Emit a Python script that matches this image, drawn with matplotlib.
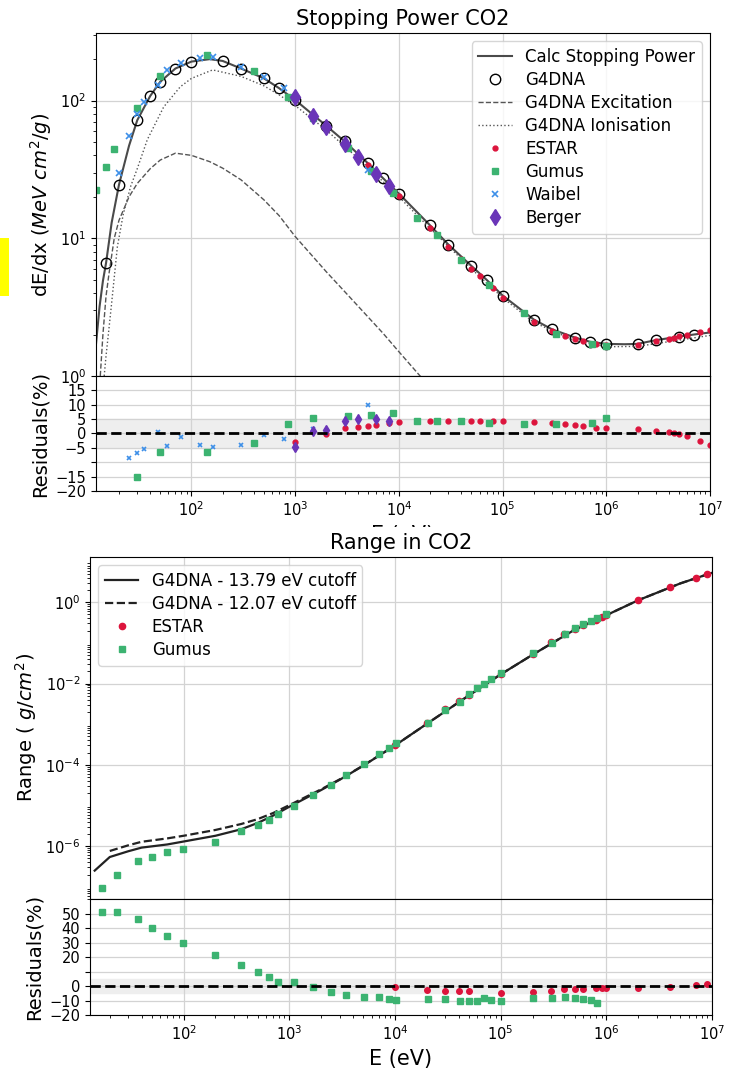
import matplotlib
matplotlib.use("Agg")
import matplotlib.pyplot as plt
from matplotlib.patches import Rectangle

# ---------------- Stopping power ----------------
calc_E = [12, 13, 14, 15, 17, 20, 25, 30, 40, 50, 70, 100, 150, 200, 300, 500, 700,
          1e3, 2e3, 3e3, 5e3, 7e3, 1e4, 2e4, 3e4, 5e4, 7e4, 1e5, 2e5, 3e5, 5e5, 7e5,
          1e6, 1.5e6, 2e6, 3e6, 5e6, 7e6, 1e7]
calc_sp = [1.7, 3.2, 4.9, 6.6, 13, 24.5, 47, 72, 108, 137, 171, 192, 200, 194, 171, 145, 123,
           101, 65.5, 50.5, 35.2, 27.4, 21.1, 12.4, 9.0, 6.3, 5.0, 3.84, 2.57, 2.18, 1.90, 1.77,
           1.71, 1.70, 1.71, 1.82, 1.93, 2.0, 2.07]

g4_E = [15, 20, 30, 40, 50, 70, 100, 200, 300, 500, 700, 1e3, 2e3, 3e3, 5e3, 7e3, 1e4,
        2e4, 3e4, 5e4, 7e4, 1e5, 2e5, 3e5, 5e5, 7e5, 1e6, 2e6, 3e6, 5e6, 7e6]
g4_sp = [6.6, 24.5, 72, 108, 137, 171, 192, 194, 171, 145, 123, 101, 65.5, 50.5, 35.2, 27.4, 21.1,
         12.4, 9.0, 6.3, 5.0, 3.84, 2.57, 2.18, 1.90, 1.77, 1.71, 1.71, 1.82, 1.93, 2.0]

exc_E = [13.2, 14, 15, 16, 18, 20, 25, 30, 40, 50, 70, 100, 150, 200, 300, 500, 700,
         1e3, 2e3, 3e3, 5e3, 7e3, 1e4, 1.6e4, 2e4]
exc_sp = [1.0, 2.0, 3.8, 5.5, 10, 13.5, 20, 25, 32, 37, 41.5, 40, 36, 32.3, 26.6, 19, 14.6,
          10.3, 5.7, 4.1, 2.7, 2.05, 1.5, 1.0, 0.85]

ion_E = [14.4, 15, 16, 17, 19.3, 22, 26, 30, 37.5, 54, 78, 100, 160, 300, 500, 700,
         1e3, 2e3, 5e3, 1e4, 2e4, 5e4, 1e5, 2e5, 5e5, 1e6, 2e6, 5e6, 1e7]
ion_sp = [1.0, 1.4, 2.2, 3.4, 8.7, 15, 24, 32, 52, 90, 126, 145, 167, 150, 128, 110,
          92, 61, 33, 20, 11.8, 6.0, 3.7, 2.45, 1.8, 1.63, 1.64, 1.82, 1.97]

estar_E = [1e3, 2e3, 3e3, 4e3, 5e3, 6e3, 8e3, 1e4, 2e4, 3e4, 4e4, 5e4, 6e4, 8e4, 1e5,
           2e5, 3e5, 4e5, 5e5, 6e5, 8e5, 1e6, 2e6, 3e6, 4e6, 4.5e6, 5e6, 6e6, 8e6, 1e7]
estar_sp = [104, 65.7, 49.6, 40.3, 34.3, 29.9, 24.0, 20.3, 11.9, 8.6, 7.04, 6.03, 5.32, 4.33, 3.67,
            2.47, 2.11, 1.96, 1.85, 1.79, 1.72, 1.68, 1.68, 1.80, 1.87, 1.90, 1.94, 1.99, 2.07, 2.16]
estar_res = [-3.0, -0.3, 1.8, 2.2, 2.5, 2.8, 3.6, 4.0, 4.5, 4.5, 4.5, 4.5, 4.5, 4.5, 4.5,
             4.0, 3.5, 3.2, 2.8, 2.5, 2.0, 2.0, 1.7, 0.9, 0.4, 0.1, -0.3, -1.0, -2.5, -4.0]

gumus_E = [12, 15, 18, 30, 50, 140, 400, 850, 1500, 3250, 5400, 8700, 15000, 23500,
           40000, 74000, 160000, 330000, 725000, 1e6]
gumus_sp = [22.5, 32.7, 44.7, 88, 150, 214, 164, 107, 74.5, 45, 31, 21.5, 14, 10.6,
            7.0, 4.57, 2.88, 2.03, 1.72, 1.65]
gumus_res_E = [30, 50, 140, 400, 850, 1500, 3250, 5400, 8700, 15000, 23500, 40000,
               74000, 160000, 330000, 725000, 1e6]
gumus_res = [-15, -6.4, -6.4, -3.3, 3.3, 5.5, 6.0, 6.5, 7.0, 4.5, 4.4, 4.5, 3.7, 3.3, 3.3, 3.8, 5.3]

waibel_E = [20, 25, 30, 35, 48, 58, 80, 120, 160, 300, 500, 780, 1500, 5000]
waibel_sp = [29.7, 55, 80, 98, 130, 167, 187, 205, 209, 176, 149, 123, 77, 31.5]
waibel_res_E = [25, 30, 35, 48, 58, 80, 120, 160, 300, 500, 780, 1500, 5000]
waibel_res = [-8.7, -6.7, -5.5, 0.4, -4.4, -1.1, -4.1, -4.8, -4.1, -0.6, -1.9, 1.4, 9.8]

berger_E = [1000, 1500, 2000, 3000, 4000, 6000, 8000]
berger_sp = [106, 77.6, 64.7, 48.4, 39.2, 29.2, 23.8]
berger_res = [-4.8, 1.0, 1.3, 4.3, 5.0, 5.0, 4.2]

# ---------------- Range ----------------
r13_E = [14.4, 20, 30, 40, 70, 100, 200, 350, 500, 700, 1000, 2000, 3000, 5000,
         1e4, 2e4, 5e4, 1e5, 2e5, 5e5, 1e6, 2e6, 5e6, 1e7]
r13 = [2.5e-7, 5.4e-7, 7.5e-7, 9.2e-7, 1.1e-6, 1.3e-6, 1.8e-6, 2.6e-6, 3.7e-6, 5.6e-6, 9.3e-6,
       2.4e-5, 4.3e-5, 9.5e-5, 3.0e-4, 1.02e-3, 5.1e-3, 1.68e-2, 5.1e-2, 0.21, 0.48, 1.12, 2.9, 5.3]
r12_E = [20, 30, 40, 70, 100, 200, 350, 500, 700, 1000, 2000, 3000, 5000,
         1e4, 2e4, 5e4, 1e5, 2e5, 5e5, 1e6, 2e6, 5e6, 1e7]
r12 = [7.6e-7, 1.05e-6, 1.28e-6, 1.55e-6, 1.8e-6, 2.5e-6, 3.5e-6, 4.6e-6, 6.5e-6, 1.02e-5,
       2.5e-5, 4.4e-5, 9.6e-5, 3.0e-4, 1.02e-3, 5.1e-3, 1.68e-2, 5.1e-2, 0.21, 0.48, 1.12, 2.9, 5.3]

rest_E = [1e4, 2e4, 3e4, 4e4, 5e4, 1e5, 2e5, 3e5, 4e5, 5e5, 6e5, 8e5, 9e5, 1e6, 2e6, 4e6, 7e6, 9e6]
rest = [3.0e-4, 1.05e-3, 2.3e-3, 3.8e-3, 5.3e-3, 1.75e-2, 5.3e-2, 0.105, 0.165, 0.215, 0.27,
        0.37, 0.43, 0.49, 1.13, 2.36, 3.94, 5.04]
rest_res = [-0.5, -2.8, -3.4, -3.4, -3.4, -4.6, -3.9, -3.2, -2.3, -2.3, -2.3, -1.2, -1.2, -1.2,
            -1.2, -0.5, 0.7, 1.4]

rgum_E = [16.8, 23.3, 36.8, 50.6, 70, 98, 200, 347, 500, 640, 790, 1100, 1680, 2480, 3430,
          5050, 7080, 8850, 10300, 20400, 30000, 40800, 50000, 60300, 70000, 80800, 1e5,
          2.02e5, 3.07e5, 4.04e5, 5.1e5, 6.07e5, 7.21e5, 8.24e5, 1e6]
rgum = [9.5e-8, 2.0e-7, 4.4e-7, 5.5e-7, 7.0e-7, 8.5e-7, 1.3e-6, 2.3e-6, 3.3e-6, 4.4e-6, 6.2e-6,
        9.5e-6, 1.8e-5, 3.2e-5, 5.5e-5, 1.02e-4, 1.8e-4, 2.6e-4, 3.4e-4, 1.1e-3, 2.26e-3, 3.6e-3,
        5.6e-3, 7.8e-3, 1.0e-2, 1.26e-2, 1.84e-2, 0.055, 0.102, 0.164, 0.226, 0.29, 0.35, 0.40, 0.51]
rgum_res = [51, 51, 46, 40, 34.5, 29.4, 21.4, 14.5, 9.9, 6.4, 3.0, 2.5, -0.9, -3.9, -6.2,
            -7.8, -7.4, -9.0, -9.7, -9.2, -9.2, -10, -10, -10, -8.5, -9.7, -10,
            -8.5, -8.5, -7.4, -8.5, -9.2, -9.7, -11.5]

RED = "#dc143c"
GREEN = "#3cb371"
BLUE = "#3d8fe8"
PURPLE = "#6a35b8"
GRID = "#d3d3d3"

plt.rcParams["xtick.labelsize"] = 10.5
plt.rcParams["ytick.labelsize"] = 10.5

fig = plt.figure(figsize=(7.31, 10.69), dpi=100)

ax1 = fig.add_axes([0.1313, 0.6483, 0.840, 0.3209])
ax1r = fig.add_axes([0.1313, 0.5407, 0.840, 0.1076], sharex=ax1)
ax2 = fig.add_axes([0.1231, 0.1590, 0.851, 0.3200], zorder=2)
ax2r = fig.add_axes([0.1231, 0.0505, 0.851, 0.1085], sharex=ax2, zorder=2)

# ---- stopping power ----
ax1.plot(calc_E, calc_sp, color="#4a4a4a", lw=1.5, label="Calc Stopping Power")
ax1.plot(g4_E, g4_sp, "o", mfc="none", mec="black", ms=7.5, mew=1.0, label="G4DNA")
ax1.plot(exc_E, exc_sp, "--", color="#555555", lw=1.0, label="G4DNA Excitation")
ax1.plot(ion_E, ion_sp, ":", color="#555555", lw=1.0, label="G4DNA Ionisation")
ax1.plot(estar_E, estar_sp, "o", color=RED, ms=3.5, ls="none", label="ESTAR")
ax1.plot(gumus_E, gumus_sp, "s", color=GREEN, ms=5, ls="none", label="Gumus")
ax1.plot(waibel_E, waibel_sp, "x", color=BLUE, ms=4.5, mew=1.2, ls="none", label="Waibel")
ax1.plot(berger_E, berger_sp, "d", color=PURPLE, ms=8, ls="none", label="Berger")
ax1.set_xscale("log")
ax1.set_yscale("log")
ax1.set_xlim(12, 1e7)
ax1.set_ylim(1, 310)
ax1.grid(True, color=GRID, lw=0.9)
ax1.tick_params(labelbottom=False)
ax1.set_title("Stopping Power CO2", fontsize=15)
ax1.set_ylabel(r"dE/dx ($MeV\ cm^2/g$)", fontsize=14)
ax1.legend(loc="upper right", fontsize=12, labelspacing=0.3)

ax1r.axhspan(-5, 5, color="#eeeeee", zorder=0)
ax1r.plot(estar_E, estar_res, "o", color=RED, ms=3.5, ls="none")
ax1r.plot(gumus_res_E, gumus_res, "s", color=GREEN, ms=4, ls="none")
ax1r.plot(waibel_res_E, waibel_res, "x", color=BLUE, ms=3.5, mew=1.2, ls="none")
ax1r.plot(berger_E, berger_res, "d", color=PURPLE, ms=5, ls="none")
ax1r.axhline(0, color="black", ls="--", lw=2)
ax1r.set_ylim(-20, 20)
ax1r.set_yticks([-20, -15, -10, -5, 0, 5, 10, 15])
ax1r.set_yticklabels(["\u221220", "\u221215", "", "\u22125", "0", "5", "10", "15"])
ax1r.grid(True, color=GRID, lw=0.9)
ax1r.set_ylabel("Residuals(%)", fontsize=14)
ax1r.set_xlabel("E (eV)", fontsize=15)

# white strip hiding the lower part of the upper x label
fig.add_artist(Rectangle((0, 0.46), 1, 0.047, transform=fig.transFigure,
                         facecolor="white", edgecolor="none", zorder=1))
# yellow marker at the left edge
fig.add_artist(Rectangle((0, 1 - 296 / 1069), 9 / 731, 58 / 1069, transform=fig.transFigure,
                         facecolor="#ffff00", edgecolor="none", zorder=3))

# ---- range ----
ax2.plot(r13_E, r13, "-", color="#222222", lw=1.6, label="G4DNA - 13.79 eV cutoff")
ax2.plot(r12_E, r12, "--", color="#222222", lw=1.6, label="G4DNA - 12.07 eV cutoff")
ax2.plot(rest_E, rest, "o", color=RED, ms=4.5, ls="none", label="ESTAR")
ax2.plot(rgum_E, rgum, "s", color=GREEN, ms=5, ls="none", label="Gumus")
ax2.set_xscale("log")
ax2.set_yscale("log")
ax2.set_xlim(13, 1e7)
ax2.set_ylim(5e-8, 13)
ax2.set_yticks([1e-6, 1e-4, 1e-2, 1e0])
ax2.grid(True, color=GRID, lw=0.9)
ax2.tick_params(labelbottom=False)
ax2.set_title("Range in CO2", fontsize=15)
ax2.set_ylabel(r"Range ( $g/cm^2$)", fontsize=14)
ax2.legend(loc="upper left", fontsize=12, labelspacing=0.3)

ax2r.axhspan(-5, 5, color="#eeeeee", zorder=0)
ax2r.plot(rest_E, rest_res, "o", color=RED, ms=4, ls="none")
ax2r.plot(rgum_E[:len(rgum_res)], rgum_res, "s", color=GREEN, ms=4, ls="none")
ax2r.axhline(0, color="black", ls="--", lw=2)
ax2r.set_ylim(-20, 60)
ax2r.set_yticks([-20, -10, 0, 10, 20, 30, 40, 50])
ax2r.set_yticklabels(["\u221220", "\u221210", "0", "", "20", "30", "40", "50"])
ax2r.grid(True, color=GRID, lw=0.9)
ax2r.set_ylabel("Residuals(%)", fontsize=14)
ax2r.set_xlabel("E (eV)", fontsize=15)

fig.savefig("out.png", dpi=100)
